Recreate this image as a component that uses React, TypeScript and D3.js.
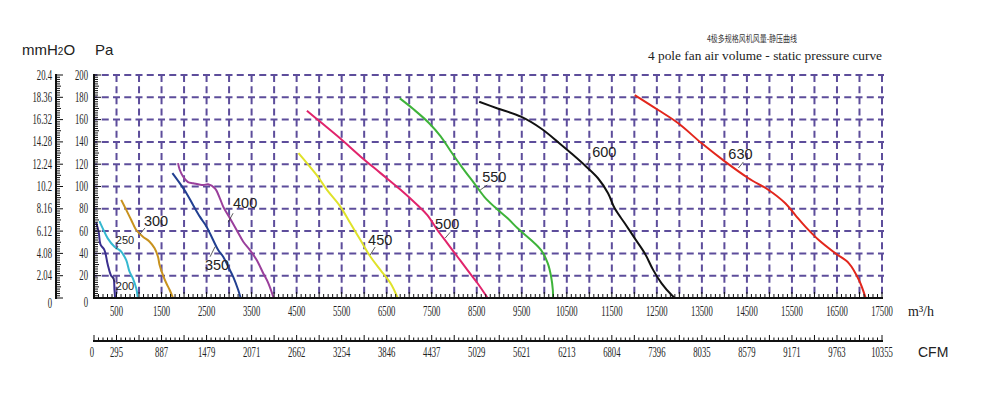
import React from 'react';
import * as d3 from 'd3';

// flow ticks (m3/h) and CFM equivalents
const flowTicks = [500, 1500, 2500, 3500, 4500, 5500, 6500, 7500, 8500, 9500, 10500, 11500, 12500, 13500, 14500, 15500, 16500, 17500];
const cfmLabels = ['0', '295', '887', '1479', '2071', '2662', '3254', '3846', '4437', '5029', '5621', '6213', '6804', '7396', '8035', '8579', '9171', '9763', '10355'];
const paTicks = [0, 20, 40, 60, 80, 100, 120, 140, 160, 180, 200];
const mmLabels = ['0', '2.04', '4.08', '6.12', '8.16', '10.2', '12.24', '14.28', '16.32', '18.36', '20.4'];

// fan curves: flow (m3/h) / static pressure (Pa)
const q200 = [47, 105, 143, 232, 305, 381, 432, 455, 470];
const p200 = [68, 59, 48, 43, 30, 20, 18, 7, 0];
const q250 = [120, 194, 305, 455, 566, 604, 716, 789, 863, 938, 974];
const p250 = [69, 62.5, 53.5, 46, 43, 41.5, 34, 23.6, 17.7, 8.7, 0];
const q300 = [604, 716, 827, 938, 1086, 1235, 1346, 1421, 1457, 1531, 1607, 1681, 1755];
const p300 = [88, 79, 70, 61, 55, 50.5, 44.6, 37, 29.6, 20.6, 13.2, 7.2, 0];
const q350 = [1741, 1904, 2053, 2200, 2350, 2499, 2646, 2758, 2869, 2981, 3092, 3203, 3257];
const p350 = [112, 103, 94, 83.4, 73, 64, 52, 43, 37, 28, 19, 7.2, 0];
const q400 = [1866, 1904, 1977, 2088, 2200, 2423, 2535, 2684, 2795, 2869, 3018, 3167, 3315, 3464, 3613, 3761, 3873, 3990];
const p400 = [121, 115, 109, 104, 103, 101.3, 102, 98.4, 89.4, 82, 71.5, 61, 50.5, 43, 34, 22, 13.2, 0];
const q450 = [4541, 4728, 4951, 5174, 5471, 5694, 5917, 6140, 6363, 6586, 6745];
const p450 = [130, 121, 110, 97, 82, 67, 52, 37, 25, 13.2, 0];
const q500 = [4728, 5025, 5471, 5917, 6363, 6809, 7180, 7403, 7626, 7849, 8072, 8295, 8518, 8741];
const p500 = [168, 158, 143, 127, 112, 97, 83.4, 74.4, 61, 49, 37, 25, 13.2, 0];
const q550 = [6792, 7104, 7438, 7699, 7922, 8183, 8441, 8664, 8887, 9186, 9409, 9706, 9929, 10078, 10152, 10190, 10195];
const p550 = [179, 169, 157, 145, 131.6, 116.7, 103, 91, 82, 71.5, 62.5, 52, 43, 31.1, 19.1, 7.2, 0];
const q600 = [8554, 8964, 9483, 9929, 10301, 10598, 10932, 11193, 11416, 11564, 11787, 12010, 12233, 12420, 12605, 12828, 12902];
const p600 = [176, 170, 162.6, 152, 140, 129.8, 117.8, 107.4, 94, 80.4, 67, 53.5, 40, 25, 13.2, 2.7, 0];
const q630 = [12009, 12530, 12976, 13496, 14015, 14535, 14981, 15352, 15575, 15798, 16095, 16467, 16765, 16988, 17137];
const p630 = [182, 168.6, 156.7, 138.7, 122.3, 107.4, 96.9, 85, 74.4, 64, 52, 40, 31.1, 16.1, 0];

const curveNames = ['200', '250', '300', '350', '400', '450', '500', '550', '600', '630'];
const curveColors = ['#3b2f8f', '#35b8d0', '#c8921e', '#213f91', '#9a3f9c', '#dfe22a', '#e1246c', '#3eb33a', '#111111', '#e2261c'];
const curveQ = [q200, q250, q300, q350, q400, q450, q500, q550, q600, q630];
const curveP = [p200, p250, p300, p350, p400, p450, p500, p550, p600, p630];

// label anchor [Q, P] and leader line [Q1, P1, Q2, P2]
const labelAt = [[689, 10.8], [689, 52], [1378, 69], [2733, 29.6], [3356, 85], [6356, 52], [7844, 67], [8889, 108.5], [11333, 131], [14356, 129]];
const leaders = [
  [467, 14.3, 393, 19.1], [533, 46.6, 489, 43.9], [1133, 62.8, 1022, 57.4], [2578, 37, 2689, 46],
  [3089, 76, 2978, 68], [6244, 45.7, 6133, 38.6], [7911, 59, 7800, 53.8], [8733, 101.3, 8578, 96.9],
  [11022, 126.5, 10956, 119.3], [14422, 122, 14311, 116.6],
];

const W = 1000;
const H = 397;
const GRID = '#5d4d9b';
const NARROW = 'Liberation Serif, serif';
const SANS = 'Liberation Sans, Arial, sans-serif';

const x = d3.scaleLinear().domain([0, 17500]).range([94, 882]);
const y = d3.scaleLinear().domain([0, 200]).range([298, 75]);
const cfmY = 341;

const Narrow = ({ px, py, anchor = 'middle', size = 14, sx = 0.62, children }: any) => (
  <text
    transform={`translate(${px},${py}) scale(${sx},1)`}
    textAnchor={anchor}
    fontFamily={NARROW}
    fontSize={size}
    fill="#222"
  >
    {children}
  </text>
);

export default function App() {
  const line = d3
    .line<[number, number]>()
    .x((d) => x(d[0]))
    .y((d) => y(d[1]))
    .curve(d3.curveCatmullRom.alpha(0.5));

  const vLines = d3.range(500, 17501, 500);
  const hLines = paTicks.slice(1);
  const minorFlow = d3.range(0, 17501, 100);
  const minorPa = d3.range(0, 201, 2);

  return (
    <svg width={W} height={H} style={{ position: 'absolute', left: 0, top: 0, background: '#fff' }}>
      {/* grid */}
      <g stroke={GRID} strokeWidth={2} fill="none">
        {hLines.map((p) => (
          <line key={'h' + p} x1={x(0)} x2={x(17500) + 2} y1={y(p)} y2={y(p)} strokeDasharray="7 4.25" strokeDashoffset={3.5} />
        ))}
        {vLines.map((q) => (
          <line key={'v' + q} x1={x(q)} x2={x(q)} y1={y(200)} y2={y(0)} strokeDasharray="7 4.15" strokeDashoffset={0} />
        ))}
      </g>

      {/* curves */}
      {curveNames.map((n, i) => {
        const pts = curveQ[i].map((q, j) => [q, curveP[i][j]] as [number, number]);
        return <path key={n} d={line(pts) || ''} fill="none" stroke={curveColors[i]} strokeWidth={2} />;
      })}

      {/* curve labels */}
      {curveNames.map((n, i) => {
        const [lq, lp] = labelAt[i];
        const [a, b, c, d] = leaders[i];
        const fs = i < 2 ? 11 : 14.5;
        return (
          <g key={'l' + n}>
            <line x1={x(a)} y1={y(b)} x2={x(c)} y2={y(d)} stroke="#333" strokeWidth={0.8} />
            <text x={x(lq)} y={y(lp) + fs * 0.36} textAnchor="middle" fontFamily={SANS} fontSize={fs} fill="#222">
              {n}
            </text>
          </g>
        );
      })}

      {/* Pa axis */}
      <g stroke="#111">
        <line x1={94} x2={94} y1={y(200) - 1} y2={y(0) + 1} strokeWidth={2} />
        {minorPa.map((p) => (
          <line key={'pt' + p} x1={94} x2={p % 20 === 0 ? 101 : p % 10 === 0 ? 99 : 98} y1={y(p)} y2={y(p)} strokeWidth={1} />
        ))}
      </g>
      {paTicks.map((p) => (
        <Narrow key={'pl' + p} px={88} py={y(p) + (p === 0 ? 9 : 4.5)} anchor="end">
          {String(p)}
        </Narrow>
      ))}

      {/* mmH2O axis */}
      <g stroke="#111">
        <line x1={56} x2={56} y1={y(200) - 1} y2={y(0) + 1} strokeWidth={2} />
        {minorPa.map((p) => (
          <line key={'mt' + p} x1={56} x2={p % 20 === 0 ? 63 : p % 10 === 0 ? 61 : 60} y1={y(p)} y2={y(p)} strokeWidth={1} />
        ))}
      </g>
      {mmLabels.map((m, i) => (
        <Narrow key={'ml' + m} px={52} py={y(paTicks[i]) + (i === 0 ? 10 : 4.5)} anchor="end">
          {m}
        </Narrow>
      ))}

      <text x={22} y={55} fontFamily={SANS} fontSize={15} fill="#222">
        mmH<tspan fontSize={10}>2</tspan>O
      </text>
      <text x={95} y={55} fontFamily={SANS} fontSize={15} fill="#222">
        Pa
      </text>

      {/* flow axis */}
      <g stroke="#111">
        <line x1={x(0) - 1} x2={x(17500) + 1} y1={y(0)} y2={y(0)} strokeWidth={2} />
        {minorFlow.map((q) => (
          <line key={'ft' + q} x1={x(q)} x2={x(q)} y1={y(0)} y2={y(0) - (q % 500 === 0 ? 6 : 4)} strokeWidth={1} />
        ))}
      </g>
      {flowTicks.map((q) => (
        <Narrow key={'fl' + q} px={x(q)} py={316}>
          {String(q)}
        </Narrow>
      ))}
      <text x={908} y={316} fontFamily={NARROW} fontSize={14} fill="#222">
        m³/h
      </text>

      {/* CFM axis */}
      <g stroke="#111">
        <line x1={x(0) - 1} x2={x(17500) + 1} y1={cfmY} y2={cfmY} strokeWidth={2} />
        {minorFlow.map((q) => (
          <line key={'ct' + q} x1={x(q)} x2={x(q)} y1={cfmY} y2={cfmY - (q % 500 === 0 ? 6 : 3.5)} strokeWidth={1} />
        ))}
      </g>
      {cfmLabels.map((c, i) => (
        <Narrow key={'cl' + c} px={i === 0 ? 92 : x(500 + 1000 * (i - 1))} py={357}>
          {c}
        </Narrow>
      ))}
      <text x={918} y={357} fontFamily={SANS} fontSize={14} fill="#222">
        CFM
      </text>

      {/* title */}
      <text x={752} y={42} textAnchor="middle" fontFamily="Noto Sans CJK SC, sans-serif" fontSize={9} fill="#333" textLength={90} lengthAdjust="spacingAndGlyphs">
        4极多规格风机风量-静压曲线
      </text>
      <text x={765} y={60} textAnchor="middle" fontFamily={NARROW} fontSize={12} fill="#222" textLength={234} lengthAdjust="spacingAndGlyphs">
        4 pole fan air volume - static pressure curve
      </text>
    </svg>
  );
}
